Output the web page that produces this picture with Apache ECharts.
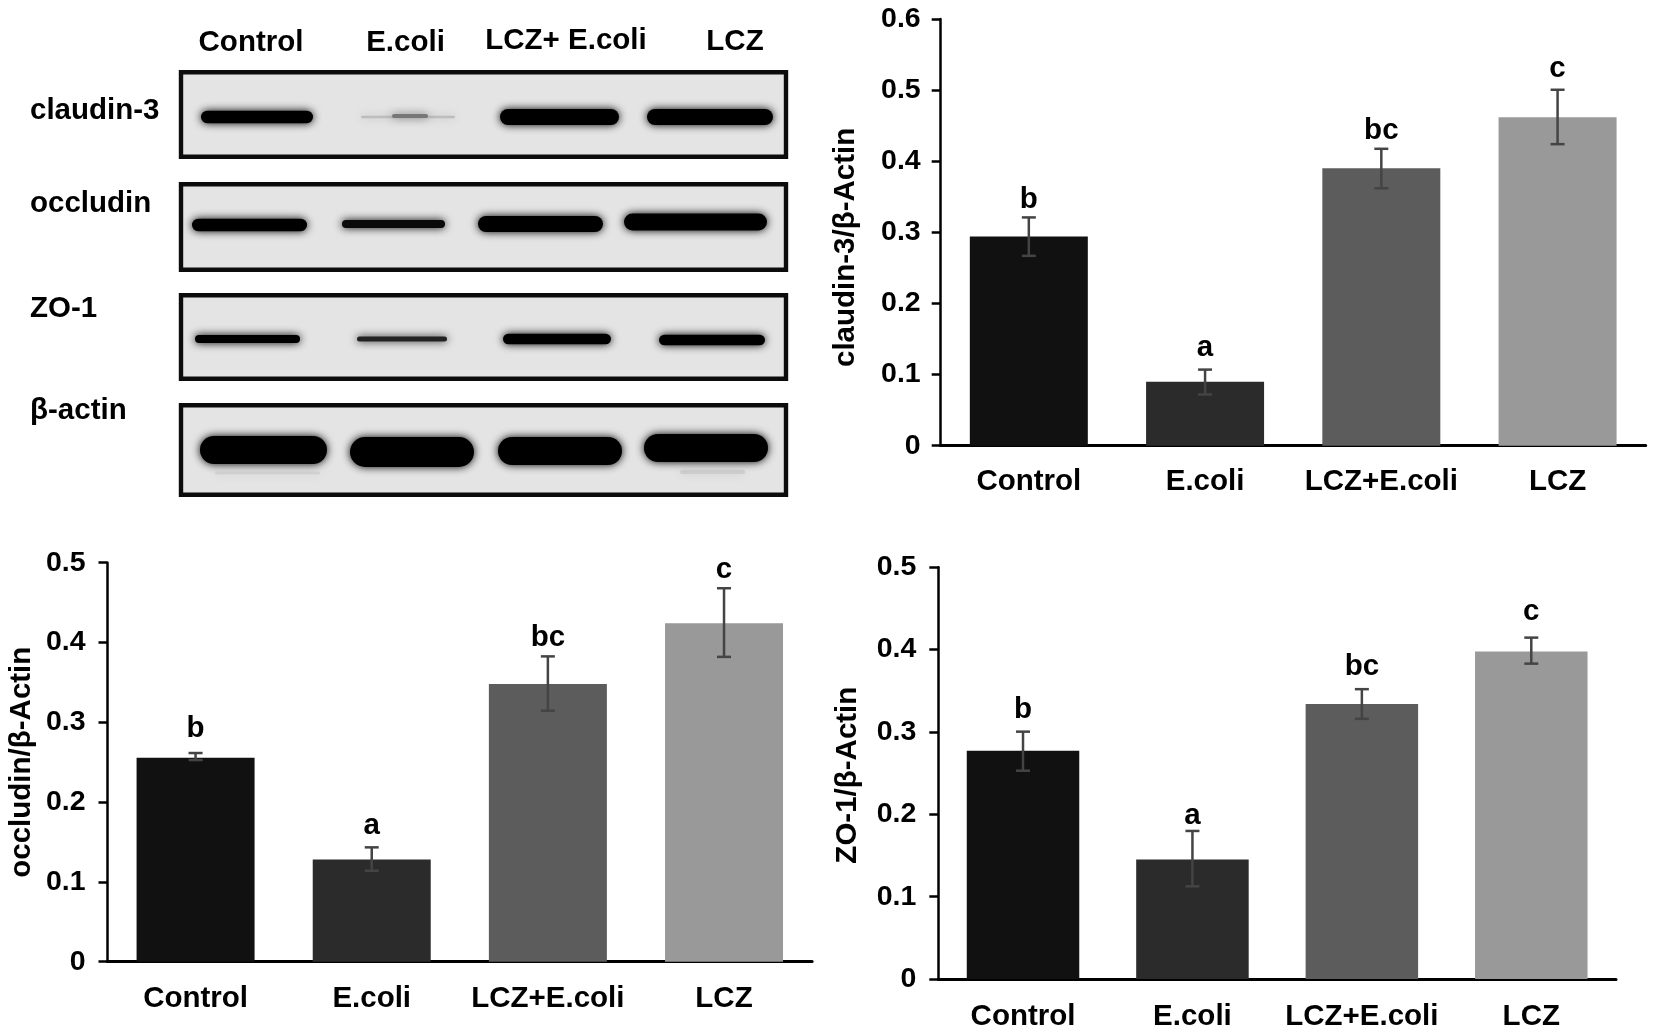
<!DOCTYPE html>
<html>
<head>
    <meta charset="utf-8"/>
    <title>Tight junction proteins</title>
    <script src="https://cdn.jsdelivr.net/npm/echarts@6/dist/echarts.min.js"></script>
    <style>
        html, body { margin: 0; padding: 0; background: #fff; }
        #main { width: 1654px; height: 1033px; }
    </style>
</head>
<body>
<div id="main"></div>
<script>
    var categories = ['Control', 'E.coli', 'LCZ+E.coli', 'LCZ'];
    var letters = ['b', 'a', 'bc', 'c'];
    var barColors = ['#111111', '#2b2b2b', '#5c5c5c', '#999999'];

    var claudinValues = [0.294, 0.090, 0.390, 0.462];
    var claudinLow = [0.267, 0.072, 0.362, 0.424];
    var claudinHigh = [0.321, 0.107, 0.4175, 0.5005];

    var occludinValues = [0.2556, 0.128, 0.348, 0.424];
    var occludinLow = [0.2527, 0.114, 0.3145, 0.382];
    var occludinHigh = [0.2615, 0.1433, 0.3826, 0.468];

    var zoValues = [0.2773, 0.145, 0.334, 0.3976];
    var zoLow = [0.253, 0.1125, 0.316, 0.383];
    var zoHigh = [0.3004, 0.1798, 0.352, 0.4146];

    // blot panel
    var laneLabels = ['Control', 'E.coli', 'LCZ+ E.coli', 'LCZ'];
    var rowLabels = ['claudin-3', 'occludin', 'ZO-1', 'β-actin'];
    // gel units: [top, bottom]
    var blotRows = [[70, 159], [182, 272], [293, 381], [403, 497]];
    // gel units: [x start, x end, y centre, thickness, shade]
    var blotBands = [
        [201, 313, 117, 12.5, '#000'], [361, 455, 117, 2.5, '#bdbdbd'], [392, 428, 116, 4, '#777'], [500, 619, 117, 16, '#000'], [647, 773, 117, 16, '#000'],
        [192, 307, 225, 12.5, '#000'], [342, 445, 224, 8, '#0a0a0a'], [478, 603, 224, 16, '#000'], [624, 767, 222, 17, '#000'],
        [195, 300, 339, 8, '#000'], [357, 447, 339, 5, '#222'], [503, 611, 339, 10.5, '#000'], [659, 765, 340, 10.5, '#000'],
        [215, 320, 473, 3, '#d2d2d2'], [680, 745, 472, 4, '#cdcdcd'],
        [200, 327, 450, 28, '#000'], [350, 474, 452, 30, '#000'], [498, 622, 451, 28, '#000'], [644, 768, 448, 28, '#000']
    ];

    var font = 'Liberation Sans';

    function errorSeries(gridIndex, low, high, gaps) {
        var data = [];
        for (var i = 0; i < low.length; i++) {
            data.push([i, low[i], high[i]]);
        }
        return {
            type: 'custom',
            xAxisIndex: gridIndex,
            yAxisIndex: gridIndex,
            z: 5,
            data: data,
            encode: {x: 0, y: [1, 2]},
            renderItem: function (params, api) {
                var lo = api.coord([api.value(0), api.value(1)]);
                var hi = api.coord([api.value(0), api.value(2)]);
                var st = {stroke: '#444', lineWidth: 2.5, fill: null};
                return {
                    type: 'group',
                    children: [
                        {type: 'line', shape: {x1: lo[0], y1: lo[1], x2: hi[0], y2: hi[1]}, style: st},
                        {type: 'line', shape: {x1: lo[0] - 7, y1: lo[1], x2: lo[0] + 7, y2: lo[1]}, style: st},
                        {type: 'line', shape: {x1: hi[0] - 7, y1: hi[1], x2: hi[0] + 7, y2: hi[1]}, style: st},
                        {
                            type: 'text',
                            style: {
                                text: letters[params.dataIndex],
                                x: hi[0],
                                y: hi[1] - gaps[params.dataIndex],
                                align: 'center',
                                verticalAlign: 'bottom',
                                font: 'bold 29.5px "' + font + '"',
                                fill: '#000'
                            }
                        }
                    ]
                };
            }
        };
    }

    var panels = [
        {name: 'claudin-3/β-Actin', values: claudinValues, low: claudinLow, high: claudinHigh, max: 0.6,
            left: 940.7, top: 19, width: 705, height: 426.7, barWidth: 118, nameGap: 80, namePad: [0, 30, 0, 0], labelMargin: 21, tickMargin: 20, gaps: [3, 7, 3, 6]},
        {name: 'occludin/β-Actin', values: occludinValues, low: occludinLow, high: occludinHigh, max: 0.5,
            left: 107.5, top: 562.7, width: 704.6, height: 399, barWidth: 118, nameGap: 71, namePad: [0, 0, 0, 0], labelMargin: 22, tickMargin: 22, gaps: [9, 6, 4, 3]},
        {name: 'ZO-1/β-Actin', values: zoValues, low: zoLow, high: zoHigh, max: 0.5,
            left: 938.3, top: 567.3, width: 677.7, height: 411.7, barWidth: 112.5, nameGap: 75, namePad: [0, 4, 0, 0], labelMargin: 23, tickMargin: 22, gaps: [7, 0, 7, 11], centerTicks: true}
    ];

    var grids = [], xAxes = [], yAxes = [], series = [];
    panels.forEach(function (p, i) {
        grids.push({left: p.left, top: p.top, width: p.width, height: p.height});
        xAxes.push({
            type: 'category',
            gridIndex: i,
            data: categories,
            axisLine: {lineStyle: {color: '#000', width: 3}},
            axisTick: {length: 9, lineStyle: {color: '#000', width: 2.5}},
            axisLabel: {color: '#000', fontFamily: font, fontWeight: 'bold', fontSize: 29.5, margin: p.labelMargin, interval: 0}
        });
        yAxes.push({
            type: 'value',
            gridIndex: i,
            min: 0,
            max: p.max,
            interval: 0.1,
            name: p.name,
            nameLocation: 'middle',
            nameGap: p.nameGap,
            nameRotate: 90,
            nameTextStyle: {color: '#000', fontFamily: font, fontWeight: 'bold', fontSize: 29.5, padding: p.namePad},
            splitLine: {show: false},
            axisLine: {show: true, lineStyle: {color: '#000', width: 2.5}},
            axisTick: {show: true, length: 9, lineStyle: {color: '#000', width: 2.5}},
            axisLabel: {color: '#000', fontFamily: font, fontWeight: 'bold', fontSize: 28.5, margin: p.tickMargin}
        });
        series.push({
            type: 'bar',
            xAxisIndex: i,
            yAxisIndex: i,
            barWidth: p.barWidth,
            data: p.values.map(function (v, k) {
                return {value: v, itemStyle: {color: barColors[k]}};
            })
        });
        series.push(errorSeries(i, p.low, p.high, p.gaps));
    });

    // the ZO-1 panel also has small ticks under the bars
    panels.forEach(function (p, i) {
        if (p.centerTicks) {
            xAxes.push({
                type: 'category',
                gridIndex: i,
                data: categories,
                axisLine: {show: false},
                axisTick: {alignWithLabel: true, length: 6, lineStyle: {color: '#000', width: 2.5}},
                axisLabel: {show: false}
            });
        }
    });

    // blot panel on its own hidden grid, one gel unit per pixel
    var blotGrid = grids.length;
    grids.push({left: 0, top: 0, width: 1654, height: 1033});
    xAxes.push({type: 'value', gridIndex: blotGrid, min: 0, max: 1654, show: false});
    yAxes.push({type: 'value', gridIndex: blotGrid, min: 0, max: 1033, inverse: true, show: false});
    series.push({
        type: 'custom',
        xAxisIndex: xAxes.length - 1,
        yAxisIndex: yAxes.length - 1,
        z: 1,
        data: blotRows,
        encode: {y: [0, 1]},
        renderItem: function (params, api) {
            var a = api.coord([181, api.value(0) + 2.2]);
            var b = api.coord([786, api.value(1) - 2.2]);
            return {
                type: 'rect',
                shape: {x: a[0], y: a[1], width: b[0] - a[0], height: b[1] - a[1]},
                style: {fill: '#e4e4e4', stroke: '#0c0c0c', lineWidth: 4.4}
            };
        }
    });
    series.push({
        type: 'custom',
        xAxisIndex: xAxes.length - 1,
        yAxisIndex: yAxes.length - 1,
        z: 2,
        data: blotBands,
        encode: {x: [0, 1], y: 2},
        renderItem: function (params, api) {
            var band = blotBands[params.dataIndex];
            var a = api.coord([band[0], band[2] - band[3] / 2]);
            var b = api.coord([band[1], band[2] + band[3] / 2]);
            return {
                type: 'rect',
                shape: {x: a[0], y: a[1], width: b[0] - a[0], height: b[1] - a[1], r: band[3] / 2},
                style: {fill: band[4], shadowBlur: 8, shadowColor: band[4]}
            };
        }
    });

    var laneX = [251, 405.5, 566, 735];
    var laneY = [42.5, 42.5, 41, 42];
    var rowY = [111, 204, 309, 411];
    var graphic = [];
    laneLabels.forEach(function (t, i) {
        graphic.push({type: 'text', x: laneX[i], y: laneY[i],
            style: {text: t, align: 'center', verticalAlign: 'middle', font: 'bold 29.5px "' + font + '"', fill: '#000'}});
    });
    rowLabels.forEach(function (t, i) {
        graphic.push({type: 'text', x: 30, y: rowY[i],
            style: {text: t, align: 'left', verticalAlign: 'middle', font: 'bold 29.5px "' + font + '"', fill: '#000'}});
    });

    var myChart = echarts.init(document.getElementById('main'));
    myChart.setOption({
        animation: false,
        backgroundColor: '#fff',
        grid: grids,
        xAxis: xAxes,
        yAxis: yAxes,
        series: series,
        graphic: graphic
    });
</script>
</body>
</html>
